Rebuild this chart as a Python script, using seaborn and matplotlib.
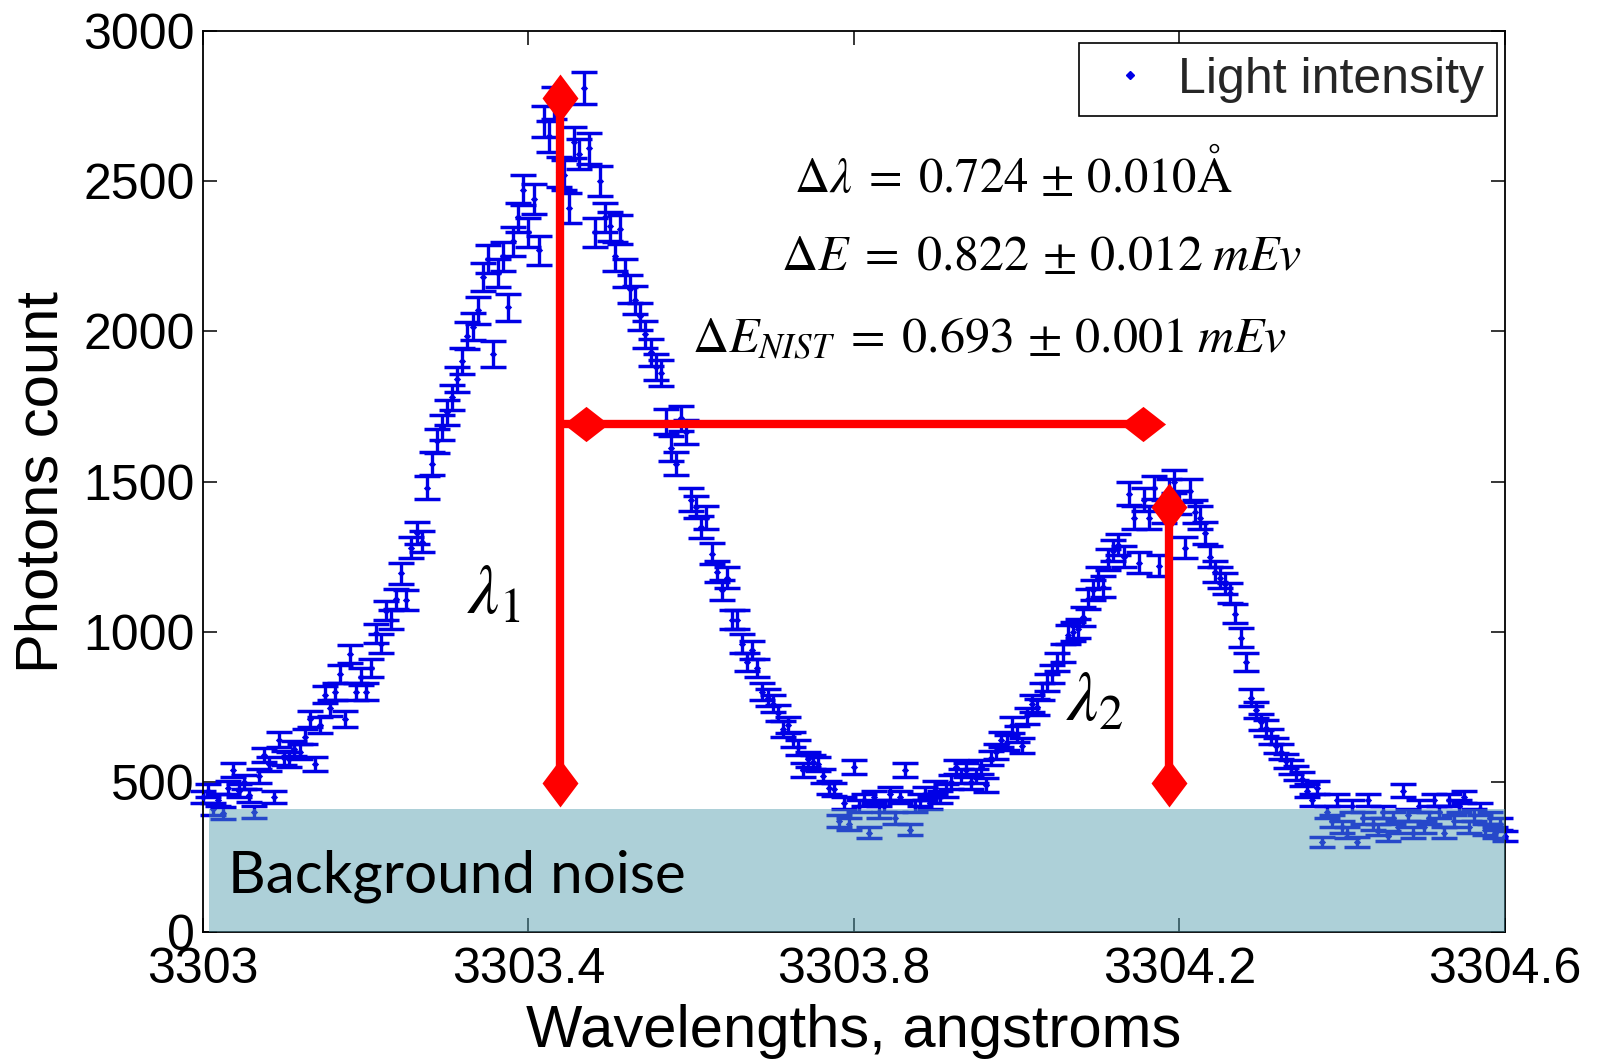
import numpy as np
import pandas as pd
import matplotlib
matplotlib.use('Agg')
import matplotlib.pyplot as plt
import seaborn as sns
from matplotlib.lines import Line2D

# ---------------- data ----------------
wavelength_start = 3303.0      # first sample, angstroms
wavelength_step = 0.00625      # spectrometer sampling step, angstroms

photon_counts = [
    450, 470, 410, 440, 395, 480, 540, 470, 500, 455,
    400, 520, 590, 560, 450, 640, 580, 575, 610, 600,
    650, 710, 560, 690, 790, 745, 800, 860, 710, 925,
    800, 850, 800, 880, 995, 960, 1070, 1040, 1110, 1195,
    1105, 1280, 1330, 1300, 1480, 1560, 1635, 1680, 1730, 1780,
    1840, 1900, 1985, 2015, 2070, 2180, 2240, 1925, 2195, 2250,
    2080, 2300, 2380, 2470, 2330, 2440, 2270, 2700, 2650, 2760,
    2530, 2520, 2410, 2630, 2590, 2810, 2610, 2330, 2500, 2380,
    2350, 2250, 2340, 2195, 2140, 2105, 2050, 1990, 1930, 1880,
    1860, 1700, 1610, 1560, 1710, 1665, 1440, 1415, 1350, 1380,
    1260, 1200, 1140, 1180, 1040, 1040, 960, 900, 940, 880,
    800, 780, 760, 730, 675, 690, 640, 615, 540, 575,
    565, 560, 520, 480, 475, 370, 430, 360, 550, 420,
    440, 330, 450, 400, 420, 460, 380, 450, 540, 340,
    420, 440, 460, 430, 480, 450, 470, 500, 550, 520,
    540, 500, 520, 550, 490, 580, 600, 640, 630, 690,
    660, 620, 720, 760, 750, 800, 830, 860, 900, 930,
    990, 1000, 1010, 1050, 1110, 1140, 1180, 1150, 1240, 1270,
    1290, 1250, 1460, 1380, 1230, 1440, 1380, 1480, 1220, 1400,
    1470, 1500, 1430, 1280, 1470, 1400, 1380, 1330, 1250, 1200,
    1180, 1160, 1130, 1060, 980, 900, 780, 740, 700, 680,
    650, 620, 600, 570, 550, 530, 510, 470, 440, 480,
    300, 400, 370, 440, 350, 330, 420, 300, 380, 440,
    360, 340, 400, 320, 380, 350, 470, 390, 330, 420,
    350, 380, 440, 400, 330, 440, 370, 420, 450, 350,
    390, 410, 340, 380, 330, 360, 320,
]

x_ticks = [3303.0, 3303.4, 3303.8, 3304.2, 3304.6]
x_tick_labels = ['3303', '3303.4', '3303.8', '3304.2', '3304.6']
y_ticks = [0, 500, 1000, 1500, 2000, 2500, 3000]

noise_start = 3303.007
noise_end = 3304.6
noise_level = 410

lambda1 = 3303.439
lambda2 = 3304.187
lambda1_top = 2777
lambda2_top = 1415
line_base = 496
delta_y = 1692
delta_left_marker = 3303.471
delta_right = 3304.155

# ---------------- build table ----------------
counts = np.array(photon_counts, dtype=float)
wavelengths = wavelength_start + wavelength_step * np.arange(len(counts))
errors = np.sqrt(counts)  # Poisson (counting) uncertainty
df = pd.DataFrame({'wavelength': wavelengths, 'counts': counts, 'err': errors})

# ---------------- style ----------------
sns.set_theme(style='ticks')
plt.rcParams['font.family'] = ['Liberation Sans', 'DejaVu Sans']
plt.rcParams['mathtext.fontset'] = 'stix'

blue = '#0000E6'
red = '#FF0000'

fig = plt.figure(figsize=(15.98, 10.59), dpi=100)
ax = fig.add_axes([0.127, 0.1199, 0.8148, 0.8508])
ax.set_facecolor('white')

eb = ax.errorbar(df['wavelength'], df['counts'], yerr=df['err'], fmt='none',
                 ecolor=blue, elinewidth=2.4, capsize=9.7, capthick=2.5,
                 zorder=2)
for art in eb.lines[1]:
    art.set_clip_on(False)
for art in eb.lines[2]:
    art.set_clip_on(False)
sns.scatterplot(data=df, x='wavelength', y='counts', ax=ax, color=blue,
                marker='D', s=14, linewidth=0, zorder=3, legend=False,
                clip_on=False)

# background noise band
ax.fill_between([noise_start, noise_end], 0, noise_level, color='#519BAC',
                alpha=0.47, linewidth=0, zorder=4)
ax.text(3303.031, 185, 'Background noise', fontsize=42, family='Lato',
        ha='left', va='center', color='black', zorder=7)

# red annotations
v_diamond = [(0, 1), (0.75, 0), (0, -1), (-0.75, 0)]
h_diamond = [(1, 0), (0, 0.78), (-1, 0), (0, -0.78)]
for lam, top in ((lambda1, lambda1_top), (lambda2, lambda2_top)):
    ax.plot([lam, lam], [line_base, top], color=red, lw=6,
            solid_capstyle='butt', zorder=5)
    ax.plot([lam, lam], [line_base, top], color=red, ls='none',
            marker=v_diamond, markersize=34.5, markeredgewidth=0, zorder=6)
ax.plot([lambda1, delta_right], [delta_y, delta_y], color=red, lw=6,
        solid_capstyle='butt', zorder=5)
ax.plot([delta_left_marker, delta_right], [delta_y, delta_y], color=red,
        ls='none', marker=h_diamond, markersize=32.5, markeredgewidth=0,
        zorder=6)

ax.text(3303.357, 1119, r'$\lambda_1$', fontsize=50, ha='center',
        va='center', color='black', zorder=7)
ax.text(3304.096, 763, r'$\lambda_2$', fontsize=50, ha='center',
        va='center', color='black', zorder=7)
ax.text(3303.996, 2527,
        r'$\Delta\lambda\;=\;0.724\,\pm\,0.010\mathrm{Å}$',
        fontsize=35, ha='center', va='center', color='black', zorder=7)
ax.text(3304.030, 2248,
        r'$\Delta E\;=\;0.822\,\pm\,0.012\;mEv$',
        fontsize=36, ha='center', va='center', color='black', zorder=7)
ax.text(3303.967, 1975,
        r'$\Delta E_{NIST}\;=\;0.693\,\pm\,0.001\;mEv$',
        fontsize=36, ha='center', va='center', color='black', zorder=7)

# axes
ax.set_xlim(3303.0, 3304.6)
ax.set_ylim(0, 3000)
ax.set_xticks(x_ticks)
ax.set_xticklabels(x_tick_labels)
ax.set_yticks(y_ticks)
ax.set_yticklabels([str(v) for v in y_ticks])
ax.minorticks_off()
ax.tick_params(axis='both', direction='in', length=10, width=1.1,
               top=True, right=True, labelsize=36, colors='black')
ax.tick_params(axis='y', pad=6)
ax.tick_params(axis='x', pad=11)
for sp in ax.spines.values():
    sp.set_visible(True)
    sp.set_color('black')
    sp.set_linewidth(1.3)

ax.set_xlabel('Wavelengths, angstroms', fontsize=43, labelpad=8, color='black')
ax.set_ylabel('Photons count', fontsize=43, labelpad=10, color='black')

handle = Line2D([], [], marker='D', color=blue, ls='none', markersize=4)
leg = ax.legend([handle], ['Light intensity'], loc='upper right',
                bbox_to_anchor=(0.9939, 0.9867), borderaxespad=0, fontsize=36,
                frameon=True, fancybox=False, edgecolor='black', framealpha=1,
                borderpad=0.27, handlelength=1.5, handletextpad=0.2)
leg.get_frame().set_linewidth(1.2)
leg.set_zorder(8)

fig.savefig('out.png', dpi=100, facecolor='white')
